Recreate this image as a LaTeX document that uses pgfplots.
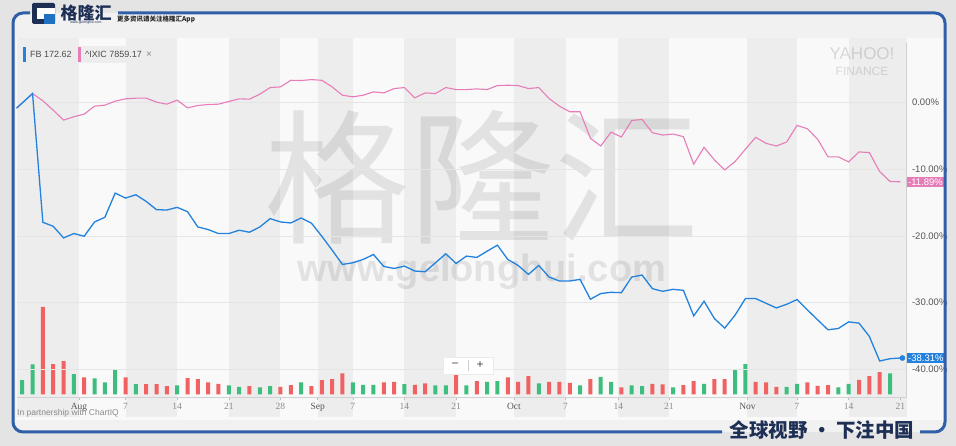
\documentclass[border=0pt]{standalone}
\usepackage{pgfplots}
\usepackage{pgfplotstable}
\pgfplotsset{compat=1.18}
\usepackage{fontspec}
\setmainfont{Liberation Sans}
\newfontfamily\cjk{Noto Sans CJK SC}
\newfontfamily\serifx{Liberation Serif}
\definecolor{fbblue}{HTML}{2282DE}
\definecolor{ixpink}{HTML}{E67DB9}
\definecolor{volgreen}{HTML}{3DBE7E}
\definecolor{volred}{HTML}{F06262}
\definecolor{framecol}{HTML}{2F5FA8}
\definecolor{navy}{HTML}{1E2F55}
\definecolor{band}{HTML}{EDEDED}
\definecolor{chartbg}{HTML}{F9F9F9}
\definecolor{bgout}{HTML}{E4E4E4}
\definecolor{inner}{HTML}{F1F1F1}
\definecolor{lbl}{HTML}{555555}
\definecolor{lbllight}{HTML}{8A8A8A}

\pgfplotstableread{
x fb ix
-0.55 -0.85 -0.85
1 1.34 1.34
2 -17.96 0.25
3 -18.56 -1.15
4 -20.30 -2.64
5 -19.65 -2.14
6 -20.05 -1.74
7 -17.91 -0.55
8 -17.21 -0.40
9 -13.58 0.20
10 -14.33 0.55
11 -13.83 0.65
12 -14.83 0.65
13 -16.07 0.05
14 -16.12 -0.25
15 -15.72 0.35
16 -16.37 -0.80
17 -18.66 -0.45
18 -19.05 -0.30
19 -19.65 -0.25
20 -19.65 0.15
21 -19.15 0.55
22 -19.45 0.50
23 -18.66 1.25
24 -17.41 2.24
25 -17.91 2.34
26 -18.06 3.33
27 -17.31 3.30
28 -18.10 3.43
29 -20.05 3.33
30 -22.14 2.34
31 -24.28 1.09
32 -24.03 0.85
33 -23.53 1.09
34 -22.79 1.59
35 -24.58 1.44
36 -24.88 2.09
37 -24.53 2.24
38 -25.27 0.70
39 -25.37 1.44
40 -24.03 1.34
41 -22.69 2.24
42 -24.13 1.94
43 -23.03 1.94
44 -23.23 2.04
45 -22.29 1.94
46 -21.39 2.54
47 -23.53 2.59
48 -24.43 2.54
49 -25.77 2.09
50 -24.43 2.24
51 -26.17 0.60
52 -26.76 -0.55
53 -26.76 -1.39
54 -26.52 -1.39
55 -29.50 -5.37
56 -28.64 -6.52
57 -28.46 -4.45
58 -28.51 -5.17
59 -26.17 -2.70
60 -25.87 -2.54
61 -27.91 -4.53
62 -28.31 -4.88
63 -28.01 -4.73
64 -28.16 -5.12
65 -31.99 -9.25
66 -29.80 -6.72
67 -32.39 -8.61
68 -33.83 -10.10
69 -31.89 -8.86
70 -29.40 -7.01
71 -29.40 -5.22
72 -30.10 -6.12
73 -30.80 -6.52
74 -30.25 -5.92
75 -29.55 -3.43
76 -31.09 -3.93
77 -32.59 -5.52
78 -34.08 -8.16
79 -33.88 -8.16
80 -32.89 -8.91
81 -33.08 -7.41
82 -35.07 -7.51
83 -38.76 -10.35
84 -38.41 -11.84
85 -38.31 -11.89
}\linedata

\pgfplotstableread{
x v
0 14.3
1 30
5 20.3
7 16
8 12
9 25.3
11 10.3
15 9
20 9
21 7.7
23 7
24 8.3
27 12
32 12
33 9.7
34 9.7
37 10.3
40 9
41 9
43 9
45 12.7
46 13.3
50 11
54 9
56 17.7
57 12.7
59 9
60 8.3
63 7
66 10.7
69 25.3
70 30.3
74 7.7
75 10.7
79 7
80 10.7
84 21
}\greenvol

\pgfplotstableread{
x v
2 87.7
3 30.3
4 33.3
6 17
10 17
12 10.3
13 10.3
14 8.3
16 16.3
17 15.3
18 12
19 10.7
22 8.3
25 7.7
26 9.3
28 8.3
29 14.3
30 15.3
31 21
35 12
36 12.7
38 9.7
39 11
42 20.3
44 13.3
47 17
48 12.7
49 18.3
51 12.7
52 12.7
53 11.7
55 15.3
58 7
61 10.7
62 10
64 9.3
65 13.3
67 15.3
68 15.3
71 12.7
72 12
73 7.7
76 12
77 8.7
78 9.3
81 14.7
82 18.3
83 22.3
}\redvol

\begin{document}
\begin{tikzpicture}[x=1pt,y=1pt]
% backgrounds
\fill[bgout] (0,0) rectangle (956,446);
\fill[inner, rounded corners=10pt] (13,14) rectangle (945,433);
\fill[chartbg] (16,26) rectangle (944,408);

% volume + bands
\begin{axis}[at={(16,51.5)}, anchor=south west, scale only axis,
  width=890pt, height=354.5pt, xmin=-0.55, xmax=85.6, ymin=0, ymax=354.5,
  hide axis, clip=false]
  \fill[band] (axis cs:-0.55,-23) rectangle (axis cs:5.5,356.5);
  \fill[band] (axis cs:10,-23) rectangle (axis cs:15,356.5);
  \fill[band] (axis cs:20,-23) rectangle (axis cs:25,356.5);
  \fill[band] (axis cs:28.6,-23) rectangle (axis cs:32,356.5);
  \fill[band] (axis cs:37,-23) rectangle (axis cs:42,356.5);
  \fill[band] (axis cs:47.6,-23) rectangle (axis cs:52.6,356.5);
  \fill[band] (axis cs:57.7,-23) rectangle (axis cs:62.6,356.5);
  \fill[band] (axis cs:70.2,-23) rectangle (axis cs:75,356.5);
  \fill[band] (axis cs:80,-23) rectangle (axis cs:85.6,356.5);
  \addplot[ybar, bar width=4pt, bar shift=0pt, fill=volgreen, draw=none] table[x=x,y=v] {\greenvol};
  \addplot[ybar, bar width=4pt, bar shift=0pt, fill=volred, draw=none] table[x=x,y=v] {\redvol};
\end{axis}

% watermarks
\node[text=black, opacity=0.09, font=\cjk\fontsize{145}{150}\selectfont, inner sep=0] at (482,269) {格隆汇};
\node[text=black, opacity=0.09, font=\bfseries\fontsize{38}{40}\selectfont, inner sep=0] at (482,174) {www.gelonghui.com};
\node[text=black, opacity=0.13, font=\fontsize{17}{18}\selectfont, inner sep=0] at (862,392) {YAHOO!};
\node[text=black, opacity=0.13, font=\fontsize{12}{13}\selectfont, inner sep=0] at (862,375) {FINANCE};

% main axis
\begin{axis}[at={(16,73)}, anchor=south west, scale only axis,
  width=890pt, height=354.5pt, xmin=-0.55, xmax=85.6, ymin=-44.2, ymax=8.95,
  axis line style={draw=none},
  clip=false,
  ymajorgrids, grid style={draw=black!10, line width=0.5pt},
  ytick={-40,-30,-20,-10,0},
  yticklabels={-40.00\%,-30.00\%,-20.00\%,-10.00\%,0.00\%},
  ytick pos=right,
  ytick style={draw=none},
  yticklabel style={anchor=west, xshift=-1pt, text=lbl, font=\fontsize{9.5}{10}\selectfont},
  xtick={5.5,10,15,20,25,28.6,32,37,42,47.6,52.6,57.7,62.6,70.2,75,80,85},
  xticklabels={{\textcolor{lbl}{Aug}},7,14,21,28,{\textcolor{lbl}{Sep}},7,14,21,{\textcolor{lbl}{Oct}},7,14,21,{\textcolor{lbl}{Nov}},7,14,21},
  xtick pos=bottom,
  xtick style={draw=black!25, line width=0.5pt},
  major tick length=3pt, tick align=outside,
  xticklabel style={text=lbllight, font=\serifx\fontsize{9.5}{10}\selectfont, yshift=1pt},
  /pgf/number format/assume math mode=true,
]
  \draw[black!18, line width=0.6pt] (axis cs:-0.55,-44.2) -- (axis cs:85.6,-44.2);
  \draw[black!18, line width=0.6pt] (axis cs:85.6,-44.2) -- (axis cs:85.6,8.95);
  \addplot[ixpink, line width=1.1pt] table[x=x,y=ix] {\linedata};
  \addplot[fbblue, line width=1.3pt] table[x=x,y=fb] {\linedata};
  \addplot[only marks, mark=*, mark size=2.6pt, fbblue] coordinates {(85.2,-38.31)};
  \node[fill=ixpink, text=white, anchor=west, inner sep=1.5pt, font=\fontsize{9.5}{10}\selectfont] at (axis cs:85.6,-11.89) {-11.89\%};
  \node[fill=fbblue, text=white, anchor=west, inner sep=1.5pt, font=\fontsize{9.5}{10}\selectfont] at (axis cs:85.6,-38.31) {-38.31\%};
\end{axis}

% legend boxes
\fill[black!7] (22,383) rectangle (76,400);
\fill[fbblue] (23,384) rectangle (25.5,399);
\node[anchor=west, text=black!70, font=\fontsize{9}{10}\selectfont, inner sep=0] at (30,391.5) {FB\ 172.62};
\fill[black!7] (77,383) rectangle (158,400);
\fill[ixpink] (78,384) rectangle (80.5,399);
\node[anchor=west, text=black!70, font=\fontsize{9}{10}\selectfont, inner sep=0] at (85,391.5) {\^{}IXIC\ 7859.17};
\node[text=black!45, font=\fontsize{10}{10}\selectfont, inner sep=0] at (149,391.5) {×};

% zoom control
\fill[white, draw=black!8] (443,72) rectangle (493,89);
\draw[black!20] (468,75) -- (468,86);
\node[text=black!70, font=\fontsize{12}{12}\selectfont, inner sep=0] at (455,81) {−};
\node[text=black!70, font=\fontsize{12}{12}\selectfont, inner sep=0] at (480,81) {+};

% ChartIQ
\node[anchor=west, text=black!45, font=\fontsize{8.5}{9}\selectfont, inner sep=0] at (17,33) {In partnership with ChartIQ};

% frame
\draw[framecol, line width=3pt, rounded corners=10pt] (118,433) -- (945,433) -- (945,14) -- (920,14);
\draw[framecol, line width=3pt, rounded corners=10pt] (722,14) -- (13,14) -- (13,433) -- (30,433);

% header logo
\fill[navy, rounded corners=1.5pt] (32,422) rectangle (55,443);
\fill[white] (37,427) rectangle (55,438);
\fill[fbblue!80!navy] (44,422) rectangle (55,432);
\fill[white] (44,432) rectangle (50,435);
\node[text=navy, font=\cjk\bfseries\fontsize{17}{18}\selectfont, inner sep=0] at (86,433) {格隆汇};
\node[text=navy, font=\fontsize{3.5}{4}\selectfont, inner sep=0] at (86,423.5) {www.gelonghui.com};
\node[anchor=west, text=black!85, font=\cjk\bfseries\fontsize{6.5}{7}\selectfont, inner sep=0] at (117,426.5) {更多资讯请关注格隆汇App};

% footer slogan
\node[text=navy, font=\cjk\bfseries\fontsize{19.5}{20}\selectfont, inner sep=0] at (822,16) {全球视野 · 下注中国};
\end{tikzpicture}
\end{document}
